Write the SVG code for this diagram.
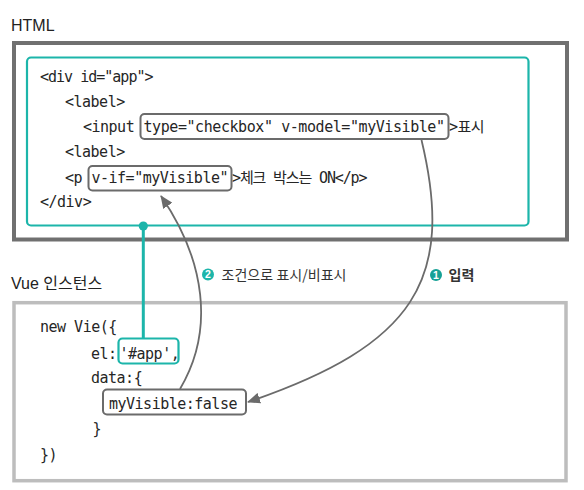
<svg xmlns="http://www.w3.org/2000/svg" width="584" height="490" viewBox="0 0 584 490">
<style>
.code{font-family:"DejaVu Sans Mono","Noto Sans CJK KR",monospace;font-size:15px;letter-spacing:-0.5px;fill:#262626}
.ttl{font-family:"Liberation Sans","Noto Sans CJK KR",sans-serif;font-size:16px;fill:#222}
.lbl{font-family:"Noto Sans CJK KR",sans-serif;font-size:14px;fill:#333}
.hl{fill:none;stroke:#6b6b6b;stroke-width:2}
.teal{fill:none;stroke:#1cb5aa;stroke-width:2.2}
.conn{fill:none;stroke:#6b6b6b;stroke-width:1.8}
.num{font-family:"Liberation Sans",sans-serif;font-size:10.5px;font-weight:bold;fill:#fff;text-anchor:middle}
</style>
<defs>
<marker id="ah" viewBox="0 0 13 11" refX="12" refY="5.5" markerWidth="13" markerHeight="11" markerUnits="userSpaceOnUse" orient="auto">
<path d="M0,0 L13,5.5 L0,11 Z" fill="#6b6b6b"/>
</marker>
</defs>
<rect width="584" height="490" fill="#fff"/>

<g id="html-section">
<text class="ttl" x="11" y="31">HTML</text>
<rect x="14" y="43" width="553" height="196.5" fill="none" stroke="#707070" stroke-width="4"/>
</g>

<g id="app-div">
<rect x="27" y="57.5" width="501.5" height="168" rx="4" class="teal"/>
<text class="code" x="40" y="82" textLength="113">&lt;div id="app"&gt;</text>
<text class="code" x="65" y="107">&lt;label&gt;</text>
<text class="code" x="83" y="132">&lt;input</text>
<text class="code" x="449" y="132">&gt;표시</text>
<text class="code" x="65" y="157">&lt;label&gt;</text>
<text class="code" x="65" y="182.5">&lt;p</text>
<text class="code" x="232" y="182.5" textLength="135">&gt;체크 박스는 ON&lt;/p&gt;</text>
<text class="code" x="40" y="207">&lt;/div&gt;</text>
</g>

<g id="type-box">
<rect x="140.5" y="114" width="308" height="25" rx="4" class="hl"/>
<text class="code" x="143.5" y="132" textLength="301">type="checkbox" v-model="myVisible"</text>
</g>

<g id="vif-box">
<rect x="88.5" y="166" width="143" height="24.5" rx="4" class="hl"/>
<text class="code" x="91.5" y="182.5">v-if="myVisible"</text>
</g>

<g id="vue-section">
<text class="ttl" x="11" y="289">Vue 인스턴스</text>
<rect x="14" y="302.7" width="552" height="178" fill="none" stroke="#bdbdbd" stroke-width="3.5"/>
<text class="code" x="40" y="332">new Vie({</text>
<text class="code" x="91" y="358.5">el:</text>
<text class="code" x="91" y="383">data:{</text>
<text class="code" x="92.5" y="433.5">}</text>
<text class="code" x="40" y="459.5">})</text>
</g>

<g id="el-box">
<rect x="118.5" y="338.5" width="60" height="25" rx="4" class="teal"/>
<text class="code" x="119.5" y="358.5">'#app',</text>
</g>

<g id="data-box">
<rect x="103" y="389.5" width="143" height="25" rx="4" class="hl"/>
<text class="code" x="109" y="408.5">myVisible:false</text>
</g>

<g id="labels">
<circle cx="208" cy="274.5" r="6" fill="#1cb5aa"/>
<text class="num" x="208" y="278.3">2</text>
<text class="lbl" x="221.5" y="280" textLength="125">조건으로 표시/비표시</text>
<circle cx="436" cy="275" r="6" fill="#16a196"/>
<text class="num" x="436" y="278.8">1</text>
<text class="lbl" x="448.5" y="280" font-weight="bold">입력</text>
</g>

<g id="connectors">
<line x1="143.3" y1="226" x2="143.3" y2="338.5" stroke="#1cb5aa" stroke-width="3"/>
<circle cx="143.3" cy="226" r="4.6" fill="#1cb5aa"/>
<path class="conn" d="M421.5,140 C455,280 415,345 248,402" marker-end="url(#ah)"/>
<path class="conn" d="M180,389 C215,330 205,260 161,196" marker-end="url(#ah)"/>
</g>
</svg>
